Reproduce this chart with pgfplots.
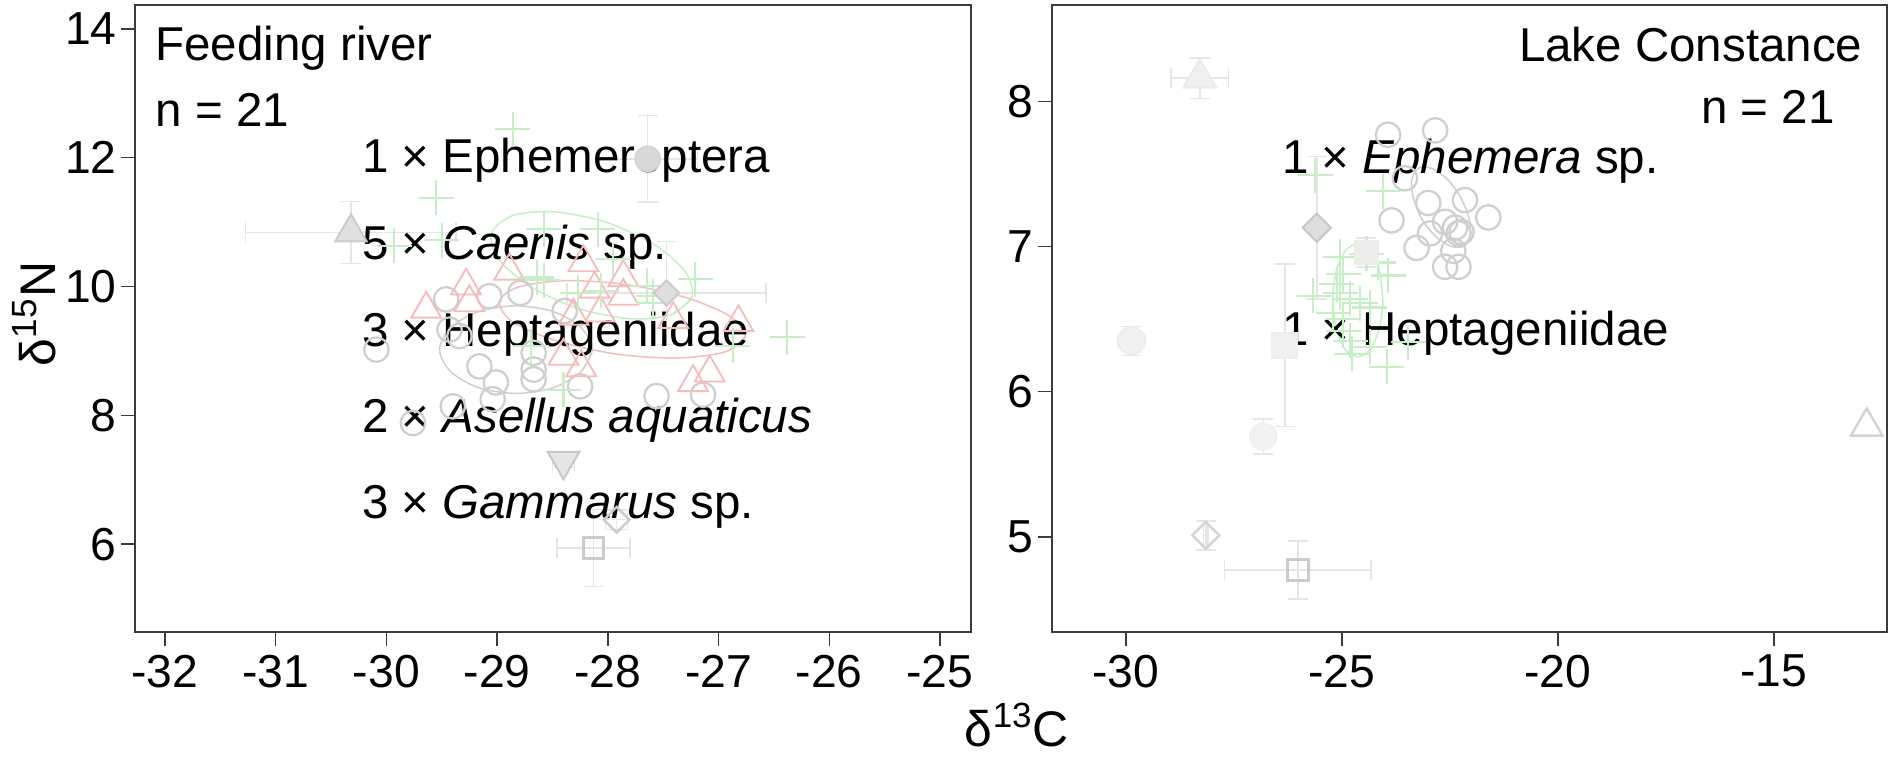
\documentclass[border=0pt]{standalone}
\usepackage{pgfplots}
\pgfplotsset{compat=1.18}
\usepackage{fontspec}
\setmainfont{Liberation Sans}
\definecolor{gc}{RGB}{198,239,198}
\definecolor{rc}{RGB}{247,188,188}
\definecolor{cc}{RGB}{207,207,207}
\definecolor{eb}{RGB}{230,230,230}
\definecolor{axc}{RGB}{60,60,60}
\pgfplotsset{
  panel/.style={
    scale only axis, width=334.4pt, height=250.5pt,
    axis line style={axc, line width=0.8pt},
    tick align=outside, xtick pos=left, ytick pos=left,
    major tick length=5.6pt,
    major tick style={axc, line width=0.6pt},
    ticklabel style={font=\fontsize{18.5}{20}\selectfont},
    xticklabel style={inner sep=3.5pt},
    yticklabel style={inner sep=1.6pt},
  },
  ebars/.style={
    error bars/.cd, x dir=both, x explicit, y dir=both, y explicit,
    error bar style={eb, line width=0.6pt},
    error mark options={rotate=90, eb, mark size=4pt, line width=0.6pt},
  },
}
\tikzset{annot/.style={font=\fontsize{19}{22}\selectfont, inner sep=0pt}}
\begin{document}
\begin{tikzpicture}
\useasboundingbox (-54pt,-49.72pt) rectangle (702.8pt,252.68pt);
% ---------------- left panel ----------------
\begin{axis}[panel, at={(0pt,0pt)}, anchor=south west,
  xmin=-32.27, xmax=-24.72, ymin=4.642, ymax=14.362,
  xtick={-32,-31,-30,-29,-28,-27,-26,-25},
  xticklabels={-32,-31,-30,-29,-28,-27,-26,-25},
  ytick={6,8,10,12,14}, yticklabels={6,8,10,12,14}]
% ellipses
\addplot[smooth, gc, line width=0.6pt] coordinates {
(-27.24,9.83) (-27.43,9.56) (-27.80,9.50) (-28.27,9.66) (-28.70,10.00) (-28.99,10.43)
(-29.05,10.83) (-28.86,11.10) (-28.49,11.16) (-28.02,11.00) (-27.58,10.65) (-27.30,10.23)
(-27.24,9.83) (-27.43,9.56)};
\addplot[smooth, rc, line width=0.6pt] coordinates {
(-26.76,9.22) (-26.93,8.99) (-27.36,8.89) (-27.92,8.95) (-28.47,9.16) (-28.86,9.45)
(-28.98,9.76) (-28.81,9.99) (-28.39,10.09) (-27.83,10.03) (-27.28,9.82) (-26.89,9.53)
(-26.76,9.22) (-26.93,8.99)};
\addplot[smooth, cc, line width=0.6pt] coordinates {
(-28.14,9.02) (-28.24,8.68) (-28.49,8.43) (-28.83,8.34) (-29.17,8.43) (-29.42,8.68)
(-29.52,9.02) (-29.42,9.36) (-29.17,9.61) (-28.83,9.70) (-28.49,9.61) (-28.24,9.36)
(-28.14,9.02) (-28.24,8.68)};
% grey circles
\addplot[only marks, mark=o, mark size=4.9pt, cc, line width=0.9pt] coordinates {
(-29.46,9.80) (-29.07,9.85) (-28.79,9.90) (-29.43,9.33) (-30.09,9.02) (-29.16,8.76)
(-29.01,8.51) (-29.04,8.25) (-28.67,8.71) (-28.67,8.56) (-28.67,8.97) (-28.39,9.62)
(-28.25,8.45) (-27.56,8.30) (-27.14,8.32) (-29.40,8.14) (-29.76,7.88) (-29.34,9.23)};
% red triangles
\addplot[only marks, mark=triangle, mark size=6.9pt, rc, line width=0.75pt] coordinates {
(-29.64,9.65) (-29.28,10.01) (-29.25,9.75) (-28.89,10.24) (-28.22,10.37) (-28.12,9.96)
(-27.86,10.14) (-27.86,9.85) (-28.07,9.59) (-28.40,8.92) (-28.24,8.74) (-27.41,9.49)
(-26.82,9.44) (-27.23,8.51) (-27.08,8.66) (-28.31,9.54)};
% green plus
\addplot[only marks, mark=+, mark size=7pt, gc, line width=0.85pt] coordinates {
(-28.86,12.44) (-29.55,11.38) (-29.93,10.63) (-29.50,10.72) (-28.58,10.89) (-28.09,10.89)
(-28.64,10.14) (-28.58,10.10) (-28.27,9.90) (-28.06,9.93) (-27.65,10.01) (-27.59,9.85)
(-27.21,10.11) (-26.38,9.21) (-26.87,9.08) (-28.40,8.40) (-28.69,9.07) (-27.95,10.42)
(-27.59,9.75)};
% grey group means with error bars
\addplot[only marks, mark=triangle*, mark size=7.3pt, black!20, line width=0.8pt,
  mark options={fill=black!12}, ebars] coordinates {(-30.32,10.84) +- (0.95,0.48)};
\addplot[only marks, mark=*, mark size=5pt, black!17, line width=0.8pt,
  mark options={fill=black!15}, ebars] coordinates {(-27.64,11.98) +- (0.45,0.67)};
\addplot[only marks, mark=square*, mark size=3.6pt, black!20, line width=0.8pt,
  mark options={fill=black!13, rotate=45}, ebars] coordinates {(-27.47,9.90) +- (0.9,0.8)};
\addplot[only marks, mark=triangle*, mark size=7.3pt, black!22, line width=0.8pt,
  mark options={fill=black!10, rotate=180}, ebars] coordinates {(-28.40,7.29) +- (0.1,0.1)};
\addplot[only marks, mark=square, mark size=3.6pt, black!20, line width=1pt,
  mark options={rotate=45}, ebars] coordinates {(-27.92,6.38) +- (0.1,0.15)};
\addplot[only marks, mark=square, mark size=4.1pt, black!20, line width=1.1pt,
  ebars] coordinates {(-28.13,5.94) +- (0.33,0.6)};
% text
\node[annot, anchor=base west] at (rel axis cs:0.024,0.912) {Feeding river};
\node[annot, anchor=base west] at (rel axis cs:0.024,0.806) {n = 21};
\node[annot, anchor=base west] at (rel axis cs:0.271,0.734) {1 × Ephemeroptera};
\node[annot, anchor=base west] at (rel axis cs:0.271,0.595) {5 × \textit{Caenis} sp.};
\node[annot, anchor=base west] at (rel axis cs:0.271,0.456) {3 × Heptageniidae};
\node[annot, anchor=base west] at (rel axis cs:0.271,0.318) {2 × \textit{Asellus aquaticus}};
\node[annot, anchor=base west] at (rel axis cs:0.271,0.180) {3 × \textit{Gammarus} sp.};
\end{axis}
% ---------------- right panel ----------------
\begin{axis}[panel, at={(366.8pt,0pt)}, anchor=south west, width=334pt,
  xmin=-31.71, xmax=-12.38, ymin=4.346, ymax=8.661,
  xtick={-30,-25,-20,-15}, xticklabels={-30,-25,-20,-15},
  ytick={5,6,7,8}, yticklabels={5,6,7,8}]
\addplot[smooth, cc, line width=0.6pt] coordinates {
(-22.18,7.00) (-22.47,7.00) (-22.83,7.07) (-23.15,7.19) (-23.35,7.34) (-23.38,7.46)
(-23.23,7.54) (-22.94,7.54) (-22.58,7.47) (-22.27,7.35) (-22.06,7.20) (-22.03,7.07)
(-22.18,7.00) (-22.47,7.00)};
\addplot[smooth, gc, line width=0.6pt] coordinates {
(-24.05,6.63) (-24.13,6.83) (-24.34,6.97) (-24.63,7.02) (-24.92,6.97) (-25.13,6.83)
(-25.21,6.63) (-25.13,6.44) (-24.92,6.29) (-24.63,6.24) (-24.34,6.29) (-24.13,6.44)
(-24.05,6.63) (-24.13,6.83)};
\addplot[only marks, mark=o, mark size=4.9pt, cc, line width=0.9pt] coordinates {
(-23.93,7.77) (-22.84,7.80) (-23.54,7.47) (-23.85,7.18) (-23.00,7.30) (-22.15,7.32)
(-21.61,7.20) (-22.61,7.17) (-22.38,7.13) (-22.30,7.09) (-22.23,7.10) (-22.96,7.09)
(-23.27,6.99) (-22.42,6.97) (-22.61,6.86) (-22.30,6.86)};
\addplot[only marks, mark=+, mark size=7pt, gc, line width=0.85pt] coordinates {
(-25.62,7.49) (-24.04,7.38) (-25.04,6.93) (-24.43,6.95) (-24.16,6.89) (-23.93,6.80)
(-24.97,6.81) (-25.66,6.66) (-25.12,6.74) (-25.04,6.68) (-24.81,6.64) (-24.58,6.61)
(-25.20,6.54) (-24.97,6.50) (-24.35,6.58) (-24.81,6.35) (-24.35,6.31) (-24.77,6.26)
(-23.96,6.17) (-23.46,6.34) (-24.97,6.42)};
\addplot[only marks, mark=triangle*, mark size=7.6pt, black!8, line width=0.8pt,
  mark options={fill=black!6}, ebars] coordinates {(-28.29,8.16) +- (0.67,0.14)};
\addplot[only marks, mark=square*, mark size=4pt, black!22, line width=0.8pt,
  mark options={fill=black!13, rotate=45}, ebars] coordinates {(-25.58,7.13) +- (0.05,0.49)};
\addplot[only marks, mark=square*, mark size=5pt, black!7, line width=0.8pt,
  mark options={fill=black!6}, ebars] coordinates {(-26.32,6.32) +- (0.15,0.56)};
\addplot[only marks, mark=*, mark size=5.3pt, black!6, line width=0.8pt,
  mark options={fill=black!5}, ebars] coordinates {(-26.82,5.69) +- (0.05,0.12)};
\addplot[only marks, mark=*, mark size=5.5pt, black!7, line width=0.8pt,
  mark options={fill=black!6}, ebars] coordinates {(-29.87,6.35) +- (0.1,0.1)};
\addplot[only marks, mark=square*, mark size=4.5pt, black!8, line width=0.8pt,
  mark options={fill=black!7}, ebars] coordinates {(-24.43,6.96) +- (0.15,0.1)};
\addplot[only marks, mark=square, mark size=3.8pt, black!17, line width=1pt,
  mark options={rotate=45}, ebars] coordinates {(-28.15,5.01) +- (0.05,0.1)};
\addplot[only marks, mark=square, mark size=4.2pt, black!20, line width=1.2pt,
  ebars] coordinates {(-26.02,4.77) +- (1.7,0.2)};
\addplot[only marks, mark=triangle, mark size=7.3pt, black!17, line width=1pt] coordinates {(-12.85,5.76)};
\node[annot, anchor=base east] at (rel axis cs:0.971,0.911) {Lake Constance};
\node[annot, anchor=base east] at (rel axis cs:0.938,0.812) {n = 21};
\node[annot, anchor=base west] at (rel axis cs:0.275,0.731) {1 × \textit{Ephemera} sp.};
\node[annot, anchor=base west] at (rel axis cs:0.275,0.457) {1 × Heptageniidae};
\end{axis}
\node[font=\fontsize{20}{22}\selectfont, inner sep=0pt] at (352.8pt,-37.2pt) {δ\textsuperscript{13}C};
\node[font=\fontsize{20}{22}\selectfont, rotate=90, inner sep=0pt] at (-40.4pt,127.1pt) {δ\textsuperscript{15}N};
\end{tikzpicture}
\end{document}
